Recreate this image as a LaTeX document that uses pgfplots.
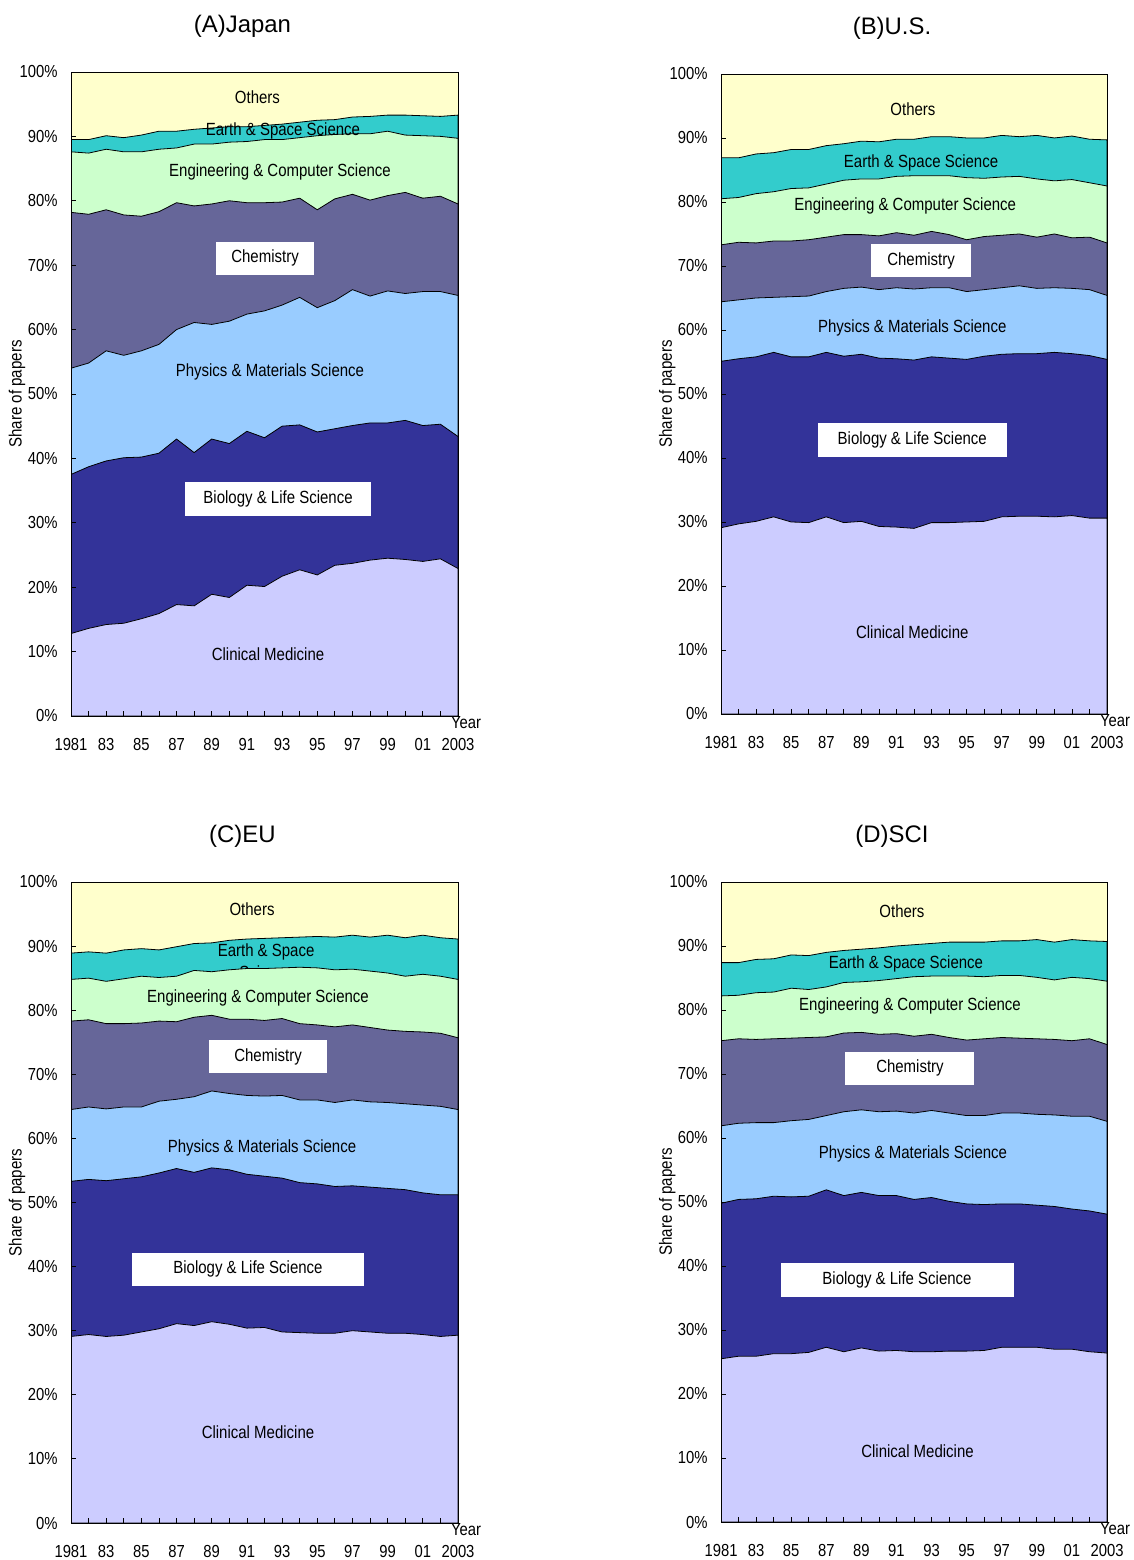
\documentclass[border=0pt]{standalone}
\usepackage{pgfplots}
\pgfplotsset{compat=1.18}
\usepackage{pgfplotstable}
\usepackage{fontspec}
\setmainfont[FakeStretch=0.85]{Liberation Sans}
\newfontfamily\titlefont{Liberation Sans}
\definecolor{cOth}{HTML}{FFFFCC}
\definecolor{cEar}{HTML}{33CCCC}
\definecolor{cEng}{HTML}{CCFFCC}
\definecolor{cChe}{HTML}{666699}
\definecolor{cPhy}{HTML}{99CCFF}
\definecolor{cBio}{HTML}{333399}
\definecolor{cCli}{HTML}{CCCCFF}

\pgfplotstableread{
year cm bio phy chem eng earth
1981 12.8 37.5 54.0 78.2 87.6 89.5
1982 13.6 38.7 54.8 77.9 87.4 89.5
1983 14.2 39.6 56.7 78.6 88.0 90.1
1984 14.4 40.1 56.0 77.8 87.6 89.8
1985 15.1 40.2 56.7 77.6 87.6 90.2
1986 15.9 40.8 57.7 78.3 88.0 90.8
1987 17.3 43.0 60.0 79.7 88.2 90.8
1988 17.1 40.9 61.1 79.2 88.8 91.1
1989 18.9 43.0 60.8 79.5 88.8 91.3
1990 18.4 42.3 61.3 80.0 89.1 91.5
1991 20.3 44.2 62.4 79.7 89.2 91.5
1992 20.1 43.2 62.9 79.7 89.5 91.7
1993 21.7 45.0 63.8 79.8 89.5 91.9
1994 22.7 45.2 65.0 80.4 89.8 92.2
1995 21.9 44.1 63.4 78.6 90.1 92.5
1996 23.4 44.6 64.5 80.3 90.3 92.6
1997 23.7 45.1 66.2 81.0 90.4 93.0
1998 24.2 45.5 65.2 80.1 90.4 93.1
1999 24.5 45.5 66.0 80.8 90.8 93.3
2000 24.3 45.9 65.6 81.3 90.2 93.3
2001 24.0 45.1 65.9 80.4 90.1 93.2
2002 24.4 45.3 65.9 80.7 90.0 93.1
2003 22.9 43.4 65.3 79.5 89.7 93.3
}\dataA

\pgfplotstableread{
year cm bio phy chem eng earth
1981 29.1 55.1 64.4 73.3 80.5 86.9
1982 29.7 55.5 64.7 73.7 80.7 86.9
1983 30.1 55.8 65.0 73.6 81.3 87.5
1984 30.8 56.5 65.1 73.9 81.6 87.7
1985 30.0 55.8 65.2 73.9 82.1 88.2
1986 29.9 55.8 65.3 74.1 82.2 88.2
1987 30.8 56.5 66.0 74.5 82.8 88.8
1988 29.9 55.9 66.5 74.9 83.4 89.1
1989 30.1 56.2 66.7 74.9 83.6 89.5
1990 29.3 55.6 66.3 74.7 83.6 89.4
1991 29.2 55.5 66.6 75.2 84.0 89.8
1992 29.0 55.3 66.4 74.8 84.1 89.8
1993 29.9 55.8 66.6 75.4 84.1 90.2
1994 29.9 55.6 66.6 74.9 84.1 90.2
1995 30.0 55.4 66.0 74.1 83.8 90.0
1996 30.1 55.9 66.3 74.6 83.7 90.0
1997 30.8 56.2 66.6 74.8 83.9 90.4
1998 30.9 56.3 66.9 75.0 84.0 90.2
1999 30.9 56.3 66.5 74.5 83.6 90.4
2000 30.8 56.5 66.6 75.0 83.3 90.0
2001 31.0 56.3 66.5 74.4 83.5 90.3
2002 30.6 56.0 66.3 74.5 83.0 89.8
2003 30.6 55.4 65.4 73.6 82.5 89.7
}\dataB

\pgfplotstableread{
year cm bio phy chem eng earth
1981 29.1 53.3 64.5 78.3 84.8 88.9
1982 29.4 53.6 64.9 78.5 85.0 89.1
1983 29.1 53.4 64.6 77.9 84.5 88.9
1984 29.3 53.7 64.9 77.9 84.9 89.4
1985 29.8 54.0 64.9 78.0 85.3 89.6
1986 30.3 54.6 65.8 78.3 85.1 89.4
1987 31.1 55.3 66.1 78.2 85.3 89.9
1988 30.8 54.7 66.5 78.9 86.2 90.4
1989 31.4 55.4 67.4 79.2 86.0 90.5
1990 31.0 55.1 67.0 78.6 86.3 90.9
1991 30.4 54.4 66.7 78.6 86.5 91.1
1992 30.5 54.1 66.6 78.4 86.5 91.2
1993 29.8 53.8 66.7 78.7 86.6 91.3
1994 29.7 53.1 66.0 77.9 86.7 91.4
1995 29.6 52.9 66.0 77.7 86.6 91.5
1996 29.6 52.5 65.6 77.4 86.3 91.4
1997 30.0 52.6 66.0 77.7 86.4 91.7
1998 29.8 52.4 65.7 77.3 86.1 91.4
1999 29.6 52.2 65.6 76.9 85.8 91.7
2000 29.6 52.0 65.4 76.7 85.3 91.3
2001 29.4 51.5 65.2 76.6 85.6 91.7
2002 29.1 51.2 65.0 76.4 85.3 91.3
2003 29.3 51.2 64.5 75.7 84.8 91.1
}\dataC

\pgfplotstableread{
year cm bio phy chem eng earth
1981 25.5 49.8 61.9 75.2 82.2 87.4
1982 25.9 50.4 62.3 75.5 82.3 87.4
1983 25.9 50.5 62.4 75.4 82.7 87.9
1984 26.3 50.9 62.4 75.5 82.8 88.0
1985 26.3 50.8 62.7 75.6 83.4 88.6
1986 26.5 50.9 62.9 75.7 83.2 88.5
1987 27.3 51.9 63.5 75.8 83.6 89.0
1988 26.6 51.0 64.1 76.4 84.3 89.3
1989 27.2 51.5 64.4 76.5 84.4 89.5
1990 26.7 51.0 64.1 76.2 84.6 89.7
1991 26.8 51.0 64.2 76.3 84.9 90.0
1992 26.6 50.4 63.9 75.9 85.2 90.2
1993 26.6 50.7 64.3 76.2 85.3 90.4
1994 26.7 50.1 63.9 75.7 85.3 90.6
1995 26.7 49.7 63.5 75.3 85.3 90.6
1996 26.8 49.6 63.5 75.5 85.2 90.6
1997 27.3 49.7 63.9 75.7 85.4 90.8
1998 27.3 49.7 63.9 75.6 85.4 90.8
1999 27.3 49.5 63.7 75.5 85.1 91.0
2000 27.0 49.3 63.6 75.4 84.7 90.6
2001 27.0 48.9 63.4 75.2 85.1 91.0
2002 26.6 48.6 63.4 75.5 84.9 90.8
2003 26.4 48.1 62.6 74.6 84.5 90.7
}\dataD

\tikzset{
  lay/.style={line width=0.8bp, draw=black},
  lbl/.style={font=\fontsize{17.7}{21}\selectfont, inner sep=0pt},
  box/.style={font=\fontsize{17.7}{21}\selectfont, fill=white, inner sep=0pt},
  yr/.style={font=\fontsize{17.5}{20}\selectfont, inner sep=0pt},
}
\pgfplotsset{
  panel/.style={
    scale only axis, anchor=south west,
    clip mode=individual,
    xmin=1981, xmax=2003, ymin=0, ymax=100,
    axis on top,
    xtick={1981,1983,...,2003},
    xticklabels={1981,83,85,87,89,91,93,95,97,99,01,2003},
    minor xtick={1982,1984,...,2002},
    ytick={0,10,...,100},
    yticklabel={\pgfmathprintnumber{\tick}\%},
    xtick pos=bottom, ytick pos=left,
    tick align=inside, major tick length=5bp, minor tick length=5bp,
    every tick/.style={black, line width=0.8bp},
    ylabel={Share of papers},
    ylabel style={at={(axis description cs:-0.1395,0.5)}, anchor=center, font=\fontsize{17.8}{20}\selectfont},
    title style={at={(axis description cs:0.443,1.062)}, anchor=center, font=\titlefont\fontsize{24}{28}\selectfont},
    ticklabel style={font=\fontsize{17.5}{20}\selectfont},
    xticklabel style={yshift=-19bp},
    yticklabel style={xshift=-10bp},
    /pgf/number format/assume math mode=true,
    axis line style={black, line width=0.8bp},
  }
}
\newcommand\upperlayers[1]{%
  \addplot[fill=cOth, draw=none] coordinates {(1981,100) (2003,100)} \closedcycle;
  \addplot[fill=cEar, lay] table[x=year,y=earth] {#1} \closedcycle;
}
\newcommand\lowerlayers[1]{%
  \addplot[fill=cEng, lay] table[x=year,y=eng] {#1} \closedcycle;
  \addplot[fill=cChe, lay] table[x=year,y=chem] {#1} \closedcycle;
  \addplot[fill=cPhy, lay] table[x=year,y=phy] {#1} \closedcycle;
  \addplot[fill=cBio, lay] table[x=year,y=bio] {#1} \closedcycle;
  \addplot[fill=cCli, lay] table[x=year,y=cm] {#1} \closedcycle;
}

\begin{document}
\begin{tikzpicture}[x=1bp,y=1bp]
\useasboundingbox (0,0) rectangle (1133,1560);

% (A) Japan
\begin{axis}[panel, at={(71bp,844bp)}, width=387bp, height=644bp, title={(A)Japan}]
\upperlayers{\dataA}
\lowerlayers{\dataA}
\node[lbl] at (axis cs:1991.6,96.1) {Others};
\node[lbl] at (axis cs:1993.05,90.8) {Earth \& Space Science};
\node[lbl] at (axis cs:1992.88,84.5) {Engineering \& Computer Science};
\node[box, minimum width=98bp, minimum height=33bp] at (axis cs:1992.03,71.1) {Chemistry};
\node[lbl] at (axis cs:1992.31,53.4) {Physics \& Materials Science};
\node[box, minimum width=186bp, minimum height=34bp] at (axis cs:1992.77,33.7) {Biology \& Life Science};
\node[lbl] at (axis cs:1992.2,9.6) {Clinical Medicine};
\node[yr] at (rel axis cs:1,0) [xshift=8bp, yshift=-7bp] {Year};
\end{axis}

% (B) U.S.
\begin{axis}[panel, at={(721bp,846bp)}, width=386bp, height=640bp, title={(B)U.S.}]
\upperlayers{\dataB}
\lowerlayers{\dataB}
\node[lbl] at (axis cs:1991.94,94.5) {Others};
\node[lbl] at (axis cs:1992.4,86.1) {Earth \& Space Science};
\node[lbl] at (axis cs:1991.5,79.4) {Engineering \& Computer Science};
\node[box, minimum width=100bp, minimum height=33bp] at (axis cs:1992.4,70.8) {Chemistry};
\node[lbl] at (axis cs:1991.9,60.3) {Physics \& Materials Science};
\node[box, minimum width=189bp, minimum height=34bp] at (axis cs:1991.9,42.8) {Biology \& Life Science};
\node[lbl] at (axis cs:1991.9,12.8) {Clinical Medicine};
\node[yr] at (rel axis cs:1,0) [xshift=8bp, yshift=-7bp] {Year};
\end{axis}

% (C) EU
\begin{axis}[panel, at={(71bp,37bp)}, width=387bp, height=641bp, title={(C)EU}]
\upperlayers{\dataC}
\node[lbl, align=center, font=\fontsize{17.7}{22}\selectfont] at (axis cs:1992.09,87.6) {Earth \& Space\\Science};
\lowerlayers{\dataC}
\node[lbl] at (axis cs:1991.29,95.8) {Others};
\node[lbl] at (axis cs:1991.63,81.9) {Engineering \& Computer Science};
\node[box, minimum width=118bp, minimum height=33bp] at (axis cs:1992.2,72.7) {Chemistry};
\node[lbl] at (axis cs:1991.86,58.5) {Physics \& Materials Science};
\node[box, minimum width=232bp, minimum height=33bp] at (axis cs:1991.06,39.6) {Biology \& Life Science};
\node[lbl] at (axis cs:1991.63,14.2) {Clinical Medicine};
\node[yr] at (rel axis cs:1,0) [xshift=8bp, yshift=-7bp] {Year};
\end{axis}

% (D) SCI
\begin{axis}[panel, at={(721bp,38bp)}, width=386bp, height=640bp, title={(D)SCI}]
\upperlayers{\dataD}
\lowerlayers{\dataD}
\node[lbl] at (axis cs:1991.31,95.5) {Others};
\node[lbl] at (axis cs:1991.54,87.2) {Earth \& Space Science};
\node[lbl] at (axis cs:1991.77,80.6) {Engineering \& Computer Science};
\node[box, minimum width=129bp, minimum height=33bp] at (axis cs:1991.77,70.9) {Chemistry};
\node[lbl] at (axis cs:1991.94,57.5) {Physics \& Materials Science};
\node[box, minimum width=233bp, minimum height=34bp] at (axis cs:1991.03,37.8) {Biology \& Life Science};
\node[lbl] at (axis cs:1992.2,11.1) {Clinical Medicine};
\node[yr] at (rel axis cs:1,0) [xshift=8bp, yshift=-7bp] {Year};
\end{axis}
\end{tikzpicture}
\end{document}
